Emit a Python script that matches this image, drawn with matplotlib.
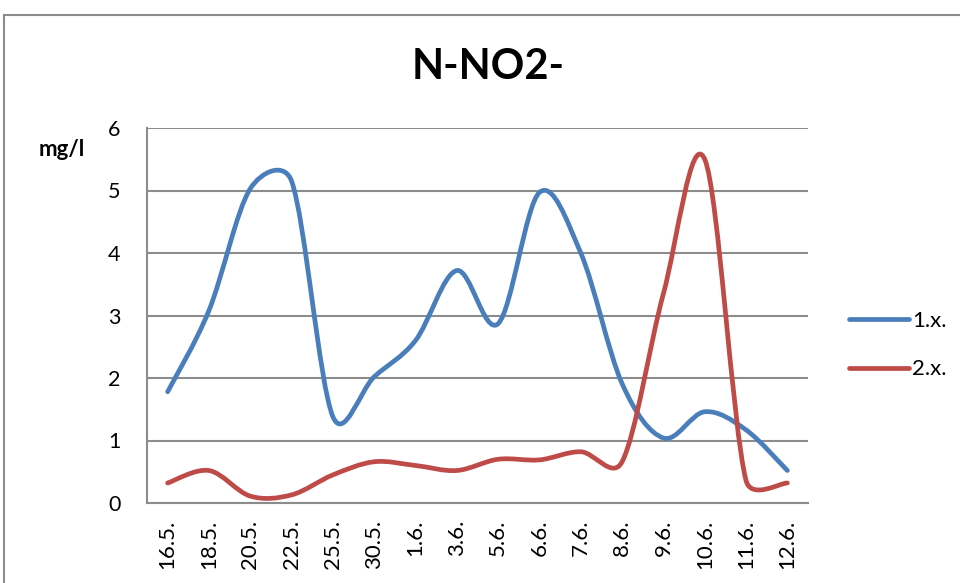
import matplotlib
matplotlib.use("Agg")
import numpy as np
import matplotlib.pyplot as plt
from matplotlib.path import Path
from matplotlib.patches import PathPatch, Rectangle
from matplotlib.lines import Line2D

plt.rcParams['font.family'] = ['Lato', 'DejaVu Sans']

# sampling dates and N-NO2- concentrations (mg/l)
dates = ['16.5.', '18.5.', '20.5.', '22.5.', '25.5.', '30.5.', '1.6.', '3.6.',
         '5.6.', '6.6.', '7.6.', '8.6.', '9.6.', '10.6.', '11.6.', '12.6.']
site1 = [1.78, 3.08, 5.03, 5.15, 1.38, 2.02, 2.6, 3.72,
         2.87, 4.97, 4.0, 1.91, 1.04, 1.46, 1.17, 0.52]
site2 = [0.32, 0.52, 0.11, 0.13, 0.45, 0.66, 0.6, 0.52,
         0.7, 0.69, 0.82, 0.66, 3.35, 5.5, 0.36, 0.32]
series_names = ['1.x.', '2.x.']

blue = '#4A7EBB'
red = '#BE4B48'
grid_gray = '#8C8C8C'


def smooth_path(ax, xs, ys):
    """Bezier path through the points, like a spreadsheet 'smoothed line'.
    Tangents are Catmull-Rom (1/6), capped at half of each segment length,
    worked out in screen space and mapped back to data space."""
    pts = ax.transData.transform(np.column_stack([xs, ys]))
    n = len(pts)
    verts = [pts[0]]
    codes = [Path.MOVETO]
    for i in range(n - 1):
        p0 = pts[i - 1] if i > 0 else pts[i]
        p1, p2 = pts[i], pts[i + 1]
        p3 = pts[i + 2] if i + 2 < n else p2
        seg = np.hypot(*(p2 - p1))
        t1 = (p2 - p0) / 6
        t2 = (p3 - p1) / 6
        for t in (t1, t2):
            ln = np.hypot(*t)
            if ln > seg / 2:
                t *= seg / 2 / ln
        verts += [p1 + t1, p2 - t2, p2]
        codes += [Path.CURVE4] * 3
    data_verts = ax.transData.inverted().transform(np.array(verts))
    return Path(data_verts, codes)


fig = plt.figure(figsize=(9.6, 5.83), dpi=100)
ax = fig.add_axes([147 / 960, 1 - 503 / 583, 661 / 960, 375 / 583])

x = list(range(len(dates)))
ax.set_xlim(-0.5, len(dates) - 0.5)
ax.set_ylim(0, 6)

for vals, col in [(site1, blue), (site2, red)]:
    ax.add_patch(PathPatch(smooth_path(ax, x, vals), facecolor='none', edgecolor=col,
                           lw=3.4, capstyle='round', joinstyle='round', zorder=3))

ax.set_yticks(range(0, 7))
ax.set_xticks(x)
ax.set_xticklabels(dates, rotation=90, fontsize=16)
ax.tick_params(axis='y', length=0, pad=19, labelsize=15.5)
ax.tick_params(axis='x', length=0, pad=12)
ax.yaxis.grid(True, color=grid_gray, lw=1.5)
ax.set_axisbelow(True)
for side in ['top', 'right']:
    ax.spines[side].set_visible(False)
for side in ['left', 'bottom']:
    ax.spines[side].set_color(grid_gray)
    ax.spines[side].set_linewidth(1.5)

fig.text(488 / 960, 1 - 67 / 583, 'N-NO2-', ha='center', va='center',
         fontsize=30, fontweight='bold')
fig.text(62 / 960, 1 - 149 / 583, 'mg/l', ha='center', va='center',
         fontsize=16, fontweight='bold')

handles = [Line2D([], [], color=blue, lw=3.4, solid_capstyle='round'),
           Line2D([], [], color=red, lw=3.4, solid_capstyle='round')]
fig.legend(handles, series_names, loc='center left',
           bbox_to_anchor=(829 / 960, 1 - 345 / 583), frameon=False,
           fontsize=16, handlelength=2.7, handletextpad=0.15, labelspacing=1.3)

# outer chart frame
fig.patches.append(Rectangle((4 / 960, -0.1), 1.1, 1 - 15 / 583 + 0.1,
                             transform=fig.transFigure, fill=False,
                             edgecolor=grid_gray, lw=1.5))

fig.savefig('out.png', dpi=100)
